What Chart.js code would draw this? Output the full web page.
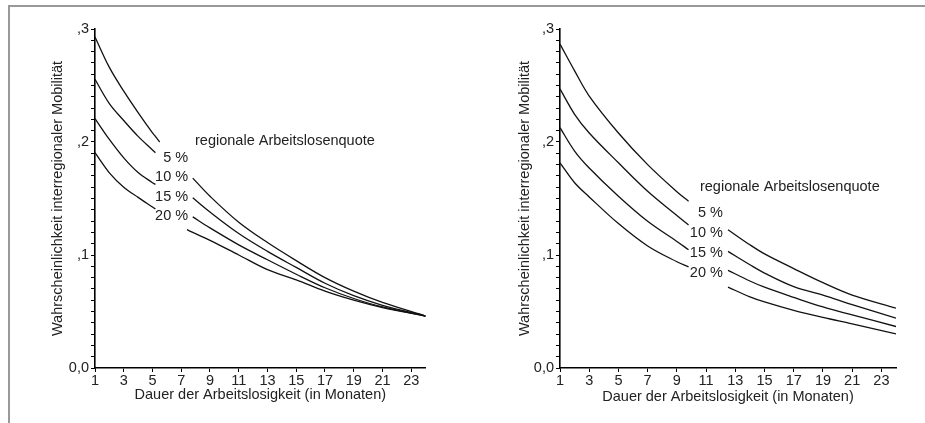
<!DOCTYPE html>
<html>
<head>
<meta charset="utf-8">
<script src="https://cdn.jsdelivr.net/npm/chart.js@4/dist/chart.umd.min.js"></script>
<style>
  body { margin: 0; background: #fff; }
  #page { position: relative; width: 925px; height: 423px; overflow: hidden; }
  #frame { position: absolute; left: 8px; top: 5px; width: 940px; height: 440px;
           border-top: 2px solid #999; border-left: 2px solid #999; }
  .panel { position: absolute; top: 0; }
</style>
</head>
<body>
<div id="page">
  <div id="frame"></div>
  <canvas id="leftChart" class="panel" style="left:0" width="462" height="423"></canvas>
  <canvas id="rightChart" class="panel" style="left:462px" width="463" height="423"></canvas>
</div>
<script>
// DATA

var seriesNames = ['5 %', '10 %', '15 %', '20 %'];

// left panel (null = Lücke für die Beschriftung)
var leftMonths = [1, 2, 3, 4, 5, 5.2, 5.5, 6.5, 7.4, 7.8, 9, 11, 13, 15, 17, 19, 21, 24];
var left5  = [0.293, 0.266, 0.245, 0.226, 0.208, 0.205, 0.200, null, null, 0.168, 0.152, 0.129, 0.111, 0.095, 0.080, 0.068, 0.058, 0.046];
var left10 = [0.2555, 0.234, 0.219, 0.205, 0.193, 0.1905, null, null, null, 0.1506, 0.138, 0.119, 0.1032, 0.089, 0.075, 0.064, 0.0555, 0.046];
var left15 = [0.2207, 0.2023, 0.186, 0.173, 0.164, 0.1624, null, null, null, 0.1337, 0.124, 0.109, 0.0958, 0.083, 0.071, 0.0615, 0.054, 0.046];
var left20 = [0.1905, 0.1727, 0.160, 0.151, 0.1425, 0.1408, null, null, 0.1224, 0.120, 0.113, 0.100, 0.087, 0.078, 0.068, 0.060, 0.0535, 0.046];

// right panel
var rightMonths = [1, 2, 3, 5, 7, 9, 9.8, 11, 12.5, 14, 15, 17, 19, 21, 24];
var right5  = [0.2866, 0.263, 0.2407, 0.208, 0.180, 0.156, 0.1476, null, 0.1224, 0.109, 0.101, 0.088, 0.0755, 0.0645, 0.053];
var right10 = [0.247, 0.2245, 0.208, 0.1816, 0.1564, 0.1349, 0.1265, null, 0.1032, 0.0914, 0.084, 0.072, 0.0645, 0.056, 0.0441];
var right15 = [0.2127, 0.192, 0.177, 0.152, 0.1298, 0.112, 0.1047, null, 0.0864, 0.077, 0.0715, 0.0625, 0.054, 0.047, 0.0367];
var right20 = [0.1816, 0.1639, 0.1514, 0.1278, 0.108, 0.094, 0.0895, null, 0.0716, 0.063, 0.0585, 0.051, 0.0447, 0.039, 0.0302];

var xTicks = [1, 3, 5, 7, 9, 11, 13, 15, 17, 19, 21, 23];
var yMajor = [0, 0.1, 0.2, 0.3];
var yMajorLabels = ['0,0', ',1', ',2', ',3'];

var noteText = 'regionale Arbeitslosenquote';
var xTitle = 'Dauer der Arbeitslosigkeit (in Monaten)';
var yTitle = 'Wahrscheinlichkeit interregionaler Mobilität';

// SETTINGS

var font = { family: "'Liberation Sans', Arial, sans-serif", size: 14.5 };
var textColor = '#222';

// minor ticks every 0.01
var yTicks = [];
for (var k = 0; k <= 30; k++) yTicks.push(k / 100);

// Beschriftungen in Datenkoordinaten (Monat, Wert)
var leftNotes = {
    title: [7.96, 0.2005],
    series: [[7.48, 0.1855], [7.48, 0.1686], [7.48, 0.1517], [7.48, 0.1349]]
};
var rightNotes = {
    title: [10.58, 0.1606],
    series: [[12.15, 0.1375], [12.15, 0.1198], [12.15, 0.102], [12.15, 0.0843]]
};

function notesPlugin(notes) {
    return {
        id: 'notes',
        afterDatasetsDraw: function (chart) {
            var ctx = chart.ctx;
            var sx = chart.scales.x, sy = chart.scales.y;
            ctx.save();
            ctx.fillStyle = textColor;
            ctx.font = font.size + 'px ' + font.family;
            ctx.textBaseline = 'middle';
            ctx.textAlign = 'left';
            ctx.fillText(noteText, sx.getPixelForValue(notes.title[0]), sy.getPixelForValue(notes.title[1]));
            ctx.textAlign = 'right';
            notes.series.forEach(function (p, i) {
                ctx.fillText(seriesNames[i], sx.getPixelForValue(p[0]), sy.getPixelForValue(p[1]));
            });
            ctx.restore();
        }
    };
}

function plotPanel(id, months, series, notes, pad, yWidth, xHeight) {
    var datasets = series.map(function (vals, i) {
        return {
            label: seriesNames[i],
            data: months.map(function (m, j) { return { x: m, y: vals[j] }; }),
            borderColor: '#111',
            borderWidth: 1.3,
            pointRadius: 0,
            fill: false,
            spanGaps: false,
            tension: 0.35
        };
    });

    return new Chart(document.getElementById(id), {
        type: 'line',
        data: { datasets: datasets },
        options: {
            responsive: false,
            animation: false,
            layout: { padding: pad },
            plugins: { legend: { display: false }, tooltip: { enabled: false } },
            scales: {
                x: {
                    type: 'linear', min: 1, max: 24,
                    afterBuildTicks: function (a) { a.ticks = xTicks.map(function (v) { return { value: v }; }); },
                    afterFit: function (s) { s.height = xHeight; },
                    ticks: { autoSkip: false, maxRotation: 0, padding: 0, color: textColor, font: font,
                             callback: function (v) { return String(v); } },
                    grid: { drawOnChartArea: false, tickLength: 4, color: '#000' },
                    border: { color: '#000', width: 1.6 },
                    title: { display: true, text: xTitle, color: textColor, font: font, padding: 0 }
                },
                y: {
                    type: 'linear', min: 0, max: 0.3,
                    afterBuildTicks: function (a) { a.ticks = yTicks.map(function (v) { return { value: v }; }); },
                    afterFit: function (s) { s.width = yWidth; },
                    ticks: { autoSkip: false, padding: 2, color: textColor, font: font,
                             callback: function (v) {
                                 for (var i = 0; i < yMajor.length; i++) {
                                     if (Math.abs(v - yMajor[i]) < 1e-9) return yMajorLabels[i];
                                 }
                                 return '';
                             } },
                    grid: { drawOnChartArea: false, tickLength: 4, color: '#000' },
                    border: { color: '#000', width: 1.6 },
                    title: { display: true, text: yTitle, color: textColor, font: font, padding: 0 }
                }
            }
        },
        plugins: [notesPlugin(notes)]
    });
}

plotPanel('leftChart', leftMonths, [left5, left10, left15, left20], leftNotes,
    { left: 49.3, right: 36.4, top: 29, bottom: 19.3 }, 45.7, 35.7);
plotPanel('rightChart', rightMonths, [right5, right10, right15, right20], rightNotes,
    { left: 54.3, right: 29, top: 29, bottom: 17.3 }, 43.7, 37.7);
</script>
</body>
</html>
